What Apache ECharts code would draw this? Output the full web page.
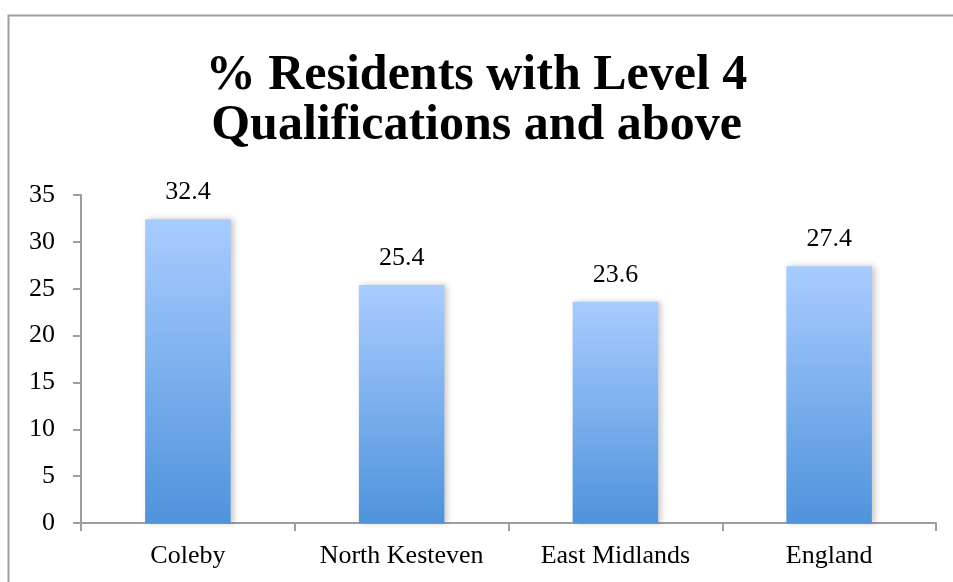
<!DOCTYPE html>
<html><head><meta charset="utf-8">
<script src="https://cdn.jsdelivr.net/npm/echarts@6/dist/echarts.min.js"></script>
<style>html,body{margin:0;padding:0;background:#fff}#c{width:953px;height:582px}</style>
</head><body><div id="c"></div>
<script>
const titleText = "% Residents with Level 4\nQualifications and above";
const categories = ["Coleby", "North Kesteven", "East Midlands", "England"];
const values = [32.4, 25.4, 23.6, 27.4];
const yMin = 0, yMax = 35, yStep = 5;

const chart = echarts.init(document.getElementById('c'), null, {renderer: 'canvas'});
const FONT = '"Liberation Serif", "DejaVu Serif", serif';
chart.setOption({
  animation: false,
  backgroundColor: '#fff',
  graphic: [{
    type: 'rect', silent: true, z: -1,
    shape: {x: 8.5, y: 15.5, width: 1200, height: 1200},
    style: {fill: 'none', stroke: '#9f9f9f', lineWidth: 2}
  }],
  title: {
    text: titleText,
    left: 'center', top: 46,
    textStyle: {fontFamily: FONT, fontWeight: 'bold', fontSize: 50, lineHeight: 50, color: '#000'}
  },
  grid: {left: 81, right: 17, top: 195, bottom: 59, containLabel: false},
  xAxis: {
    type: 'category', data: categories,
    axisLine: {lineStyle: {color: '#9d9d9d', width: 2}},
    axisTick: {show: true, length: 8, lineStyle: {color: '#9d9d9d', width: 2}},
    axisLabel: {fontFamily: FONT, fontSize: 26, color: '#000', margin: 20}
  },
  yAxis: {
    type: 'value', min: yMin, max: yMax, interval: yStep,
    axisLine: {show: true, lineStyle: {color: '#9d9d9d', width: 2}},
    axisTick: {show: true, length: 8, lineStyle: {color: '#9d9d9d', width: 2}},
    splitLine: {show: false},
    axisLabel: {fontFamily: FONT, fontSize: 26, color: '#000', margin: 26}
  },
  series: [{
    type: 'bar', data: values, barCategoryGap: '60%',
    itemStyle: {
      color: new echarts.graphic.LinearGradient(0, 0, 0, 1, [
        {offset: 0, color: '#a9ccff'},
        {offset: 1, color: '#4f93db'}
      ]),
      shadowColor: 'rgba(0,0,0,0.22)', shadowBlur: 6, shadowOffsetX: 3, shadowOffsetY: 0
    },
    label: {show: true, position: 'top', distance: 14, fontFamily: FONT, fontSize: 26, color: '#000'}
  }]
});
</script></body></html>
